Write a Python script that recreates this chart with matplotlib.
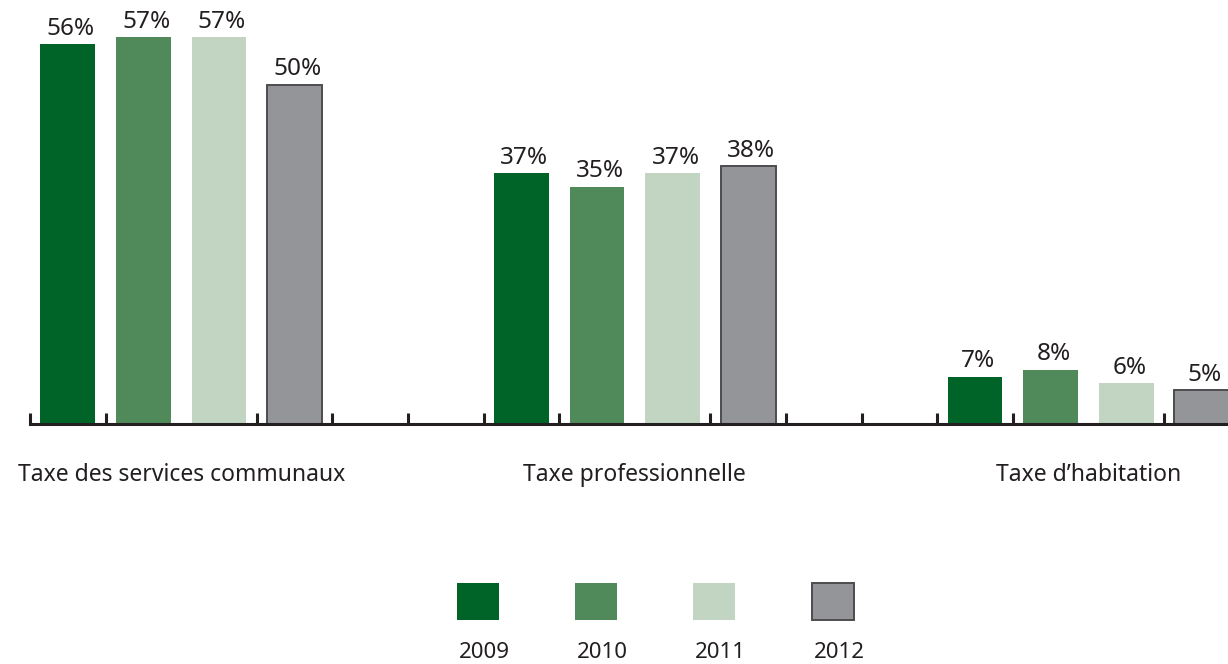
import matplotlib
matplotlib.use("Agg")
import matplotlib.pyplot as plt
from matplotlib.patches import Rectangle
import numpy as np

plt.rcParams['font.family'] = ['Noto Sans', 'DejaVu Sans']

categories = ["Taxe des services communaux", "Taxe professionnelle", "Taxe d\u2019habitation"]
years = ["2009", "2010", "2011", "2012"]
values = {
    "2009": [56, 37, 7],
    "2010": [57, 35, 8],
    "2011": [57, 37, 6],
    "2012": [50, 38, 5],
}
colors = ["#006328", "#518a5a", "#c1d5c2", "#949599"]
edges = ["none", "none", "none", "#4d4d4f"]

TEXT = "#231f20"
W, H = 1228, 664
fig = plt.figure(figsize=(W / 100, H / 100), dpi=100)
fig.patch.set_facecolor("white")

# slot layout: 4 bars per group, 2 empty slots between groups
slots_per_group = 6
bar_w = 0.727
x_left_px, axis_y_px, top_px = 30, 424, 17
slot_px = 75.6
xmax = (W - x_left_px) / slot_px - 0.5
ax = fig.add_axes([x_left_px / W, (H - axis_y_px) / H, 1 - x_left_px / W, (axis_y_px - top_px) / H])
ax.set_xlim(-0.5, xmax)
ax.set_ylim(0, 60)

for j, (yr, col, ec) in enumerate(zip(years, colors, edges)):
    xs = np.arange(len(categories)) * slots_per_group + j
    bars = ax.bar(xs, values[yr], width=bar_w, color=col,
                  edgecolor=ec, linewidth=1.4 if ec != "none" else 0, zorder=2)
    for b, v in zip(bars, values[yr]):
        ax.annotate(f"{v}%", (b.get_x() + b.get_width() / 2 + 0.04, v),
                    xytext=(0, 2.5), textcoords="offset points",
                    ha="center", va="bottom", fontsize=17.5, color=TEXT,
                    annotation_clip=False)

for s in ["top", "right", "left"]:
    ax.spines[s].set_visible(False)
ax.spines["bottom"].set_color(TEXT)
ax.spines["bottom"].set_linewidth(2.2)
ax.spines["bottom"].set_zorder(3)
ax.set_yticks([])

centers = np.arange(len(categories)) * slots_per_group + 1.5
ax.set_xticks(centers)
ax.set_xticklabels(categories, fontsize=16.5, color=TEXT)
ax.tick_params(axis="x", which="major", length=0, pad=28)
ax.set_xticks(np.arange(-0.5, xmax, 1.0), minor=True)
ax.tick_params(axis="x", which="minor", direction="in", length=8, width=2.2, color=TEXT)

# legend: swatches with year labels underneath
leg_x = [457, 575, 693, 812]
for x0, yr, col, ec in zip(leg_x, years, colors, edges):
    fig.add_artist(Rectangle((x0 / W, (H - 620) / H), 42 / W, 37 / H,
                             transform=fig.transFigure, facecolor=col,
                             edgecolor=ec, linewidth=1.4 if ec != "none" else 0))
    fig.text((x0 + 27) / W, (H - 652) / H, yr, ha="center", va="center",
             fontsize=16, color=TEXT)

fig.savefig("out.png", dpi=100, facecolor="white")
